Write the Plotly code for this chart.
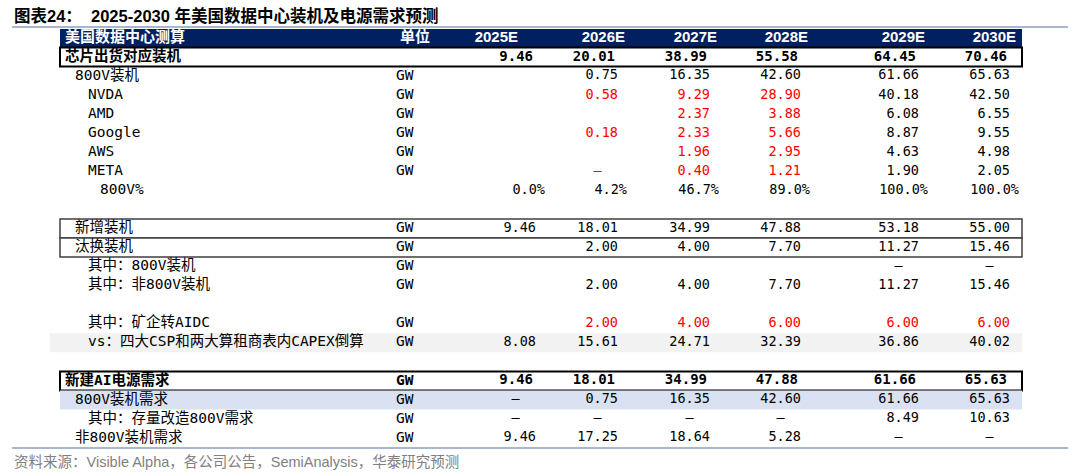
import plotly.graph_objects as go

years = ["2025E", "2026E", "2027E", "2028E", "2029E", "2030E"]
DASH = "–"                                                                      # cells shown as a dash

chip_total      = [9.46, 20.01, 38.99, 55.58, 64.45, 70.46]                     # 芯片出货对应装机
v800_units      = [None, 0.75, 16.35, 42.60, 61.66, 65.63]                      # 800V装机
nvda            = [None, 0.58, 9.29, 28.90, 40.18, 42.50]
amd             = [None, None, 2.37, 3.88, 6.08, 6.55]
google          = [None, 0.18, 2.33, 5.66, 8.87, 9.55]
aws             = [None, None, 1.96, 2.95, 4.63, 4.98]
meta            = [None, DASH, 0.40, 1.21, 1.90, 2.05]
v800_share      = [0.000, 0.042, 0.467, 0.890, 1.000, 1.000]                    # 800V%
new_units       = [9.46, 18.01, 34.99, 47.88, 53.18, 55.00]                     # 新增装机
replace_units   = [None, 2.00, 4.00, 7.70, 11.27, 15.46]                        # 汰换装机
replace_800v    = [None, None, None, None, DASH, DASH]
replace_non800v = [None, 2.00, 4.00, 7.70, 11.27, 15.46]
miner_aidc      = [None, 2.00, 4.00, 6.00, 6.00, 6.00]                          # 矿企转AIDC
capex_check     = [8.08, 15.61, 24.71, 32.39, 36.86, 40.02]                     # CAPEX倒算
ai_power        = [9.46, 18.01, 34.99, 47.88, 61.66, 65.63]                     # 新建AI电源需求
v800_demand     = [DASH, 0.75, 16.35, 42.60, 61.66, 65.63]
retrofit_800v   = [DASH, DASH, DASH, DASH, 8.49, 10.63]
non800v_demand  = [9.46, 17.25, 18.64, 5.28, DASH, DASH]

# columns printed in red (estimates / company guidance)
nvda_red   = [1, 2, 3]
amd_red    = [2, 3]
google_red = [1, 2, 3]
aws_red    = [2, 3]
meta_red   = [1, 2, 3]
miner_red  = [1, 2, 3, 4, 5]

title_text = "图表24：  2025-2030 年美国数据中心装机及电源需求预测"
source_text = "资料来源：Visible Alpha，各公司公告，SemiAnalysis，华泰研究预测"

# ---------------- layout / style settings ----------------
W, H = 1080, 475
ROW0_PX, ROW_PX = 38, 19.05                                                     # pixel centre of header row, row pitch
TABLE_L, TABLE_R = 60, 1022
INDENT = [65, 75, 88, 100]                                                      # label x per indent level
UNIT_X = 396
VAL_R = [536, 618, 710, 801, 919, 1010]                                         # right edge of value columns
HEAD_R = [518, 625, 717, 808, 925, 1016]                                        # right edge of year headers
MONO = "DejaVu Sans Mono, Noto Sans CJK SC"
NAVY, RED = "#002060", "#FF0000"
RULE = "#A8B7CC"


def px_to_row(py):
    return (py - ROW0_PX) / ROW_PX                                              # pixel height -> row units of the y axis


# (label, unit, values, indent level, red columns, row style)
table_rows = [
    ("芯片出货对应装机", "", chip_total, 0, [], "boxbold"),
    ("800V装机", "GW", v800_units, 1, [], ""),
    ("NVDA", "GW", nvda, 2, nvda_red, ""),
    ("AMD", "GW", amd, 2, amd_red, ""),
    ("Google", "GW", google, 2, google_red, ""),
    ("AWS", "GW", aws, 2, aws_red, ""),
    ("META", "GW", meta, 2, meta_red, ""),
    ("800V%", "", v800_share, 3, [], "pct"),
    None,
    ("新增装机", "GW", new_units, 1, [], "box"),
    ("汰换装机", "GW", replace_units, 1, [], "box"),
    ("其中：800V装机", "GW", replace_800v, 2, [], ""),
    ("其中：非800V装机", "GW", replace_non800v, 2, [], ""),
    None,
    ("其中：矿企转AIDC", "GW", miner_aidc, 2, miner_red, ""),
    ("vs：四大CSP和两大算租商表内CAPEX倒算", "GW", capex_check, 2, [], "gray"),
    None,
    ("新建AI电源需求", "GW", ai_power, 0, [], "boxbold"),
    ("800V装机需求", "GW", v800_demand, 1, [], "blue"),
    ("其中：存量改造800V需求", "GW", retrofit_800v, 2, [], ""),
    ("非800V装机需求", "GW", non800v_demand, 1, [], ""),
]


def fmt(v, pct=False):
    if v is None:
        return ""
    if v == DASH:
        return DASH + "\u00a0\u00a0"                                            # accounting style dash, padded
    if pct:
        return f"{v * 100:.1f}%"
    return f"{v:.2f}"


fig = go.Figure()

# ---- row backgrounds and boxes (horizontal bars spanning the table) ----
def row_bar(row, fill, line_color, line_width, height=1.0, left=TABLE_L):
    fig.add_trace(go.Bar(
        y=[row], x=[TABLE_R - left], base=[left], width=[height],
        orientation="h", marker=dict(color=fill, line=dict(color=line_color, width=line_width)),
        hoverinfo="skip", showlegend=False))

row_bar(0, NAVY, NAVY, 0, height=18 / ROW_PX)                                   # header
for i, r in enumerate(table_rows, start=1):
    if r is None:
        continue
    style = r[5]
    if style == "boxbold":
        row_bar(i, "white", "#000000", 2)
    elif style == "box":
        row_bar(i, "white", "#3F3F3F", 1.5)
    elif style == "gray":
        row_bar(i, "#F2F2F2", "#F2F2F2", 0, left=50)
    elif style == "blue":
        row_bar(i, "#DAE1F2", "#DAE1F2", 0)

# ---- rules under the title and under the table ----
for py in (27, 448):
    fig.add_trace(go.Scatter(
        x=[12, 1068], y=[px_to_row(py)] * 2, mode="lines",
        line=dict(color=RULE, width=2), hoverinfo="skip", showlegend=False))

# ---- header texts ----
fig.add_trace(go.Scatter(
    x=[INDENT[0], 400], y=[0, 0], text=["美国数据中心测算", "单位"], mode="text",
    textposition="middle right", cliponaxis=False, hoverinfo="skip", showlegend=False,
    textfont=dict(family="Noto Sans CJK SC", size=15, color="white", weight="bold")))
fig.add_trace(go.Scatter(
    x=HEAD_R, y=[0] * len(years), text=years, mode="text",
    textposition="middle left", cliponaxis=False, hoverinfo="skip", showlegend=False,
    textfont=dict(family="Liberation Sans", size=15, color="white", weight="bold")))

# ---- body texts ----
cells = {False: dict(x=[], y=[], t=[], c=[]), True: dict(x=[], y=[], t=[], c=[])}
labels = {False: dict(x=[], y=[], t=[]), True: dict(x=[], y=[], t=[])}
for i, r in enumerate(table_rows, start=1):
    if r is None:
        continue
    label, unit, vals, level, reds, style = r
    bold = style == "boxbold"
    labels[bold]["x"] += [INDENT[level]]
    labels[bold]["y"] += [i]
    labels[bold]["t"] += [label]
    if unit:
        labels[bold]["x"] += [UNIT_X]
        labels[bold]["y"] += [i]
        labels[bold]["t"] += [unit]
    for j, v in enumerate(vals):
        txt = fmt(v, style == "pct")
        if not txt:
            continue
        xr = VAL_R[j] - (3 if bold else 0) + (9 if style == "pct" else 0)
        cells[bold]["x"].append(xr)
        cells[bold]["y"].append(i)
        cells[bold]["t"].append(txt)
        cells[bold]["c"].append(RED if j in reds else "#000000")

for bold in (False, True):
    fig.add_trace(go.Scatter(
        x=labels[bold]["x"], y=labels[bold]["y"], text=labels[bold]["t"], mode="text",
        textposition="middle right", cliponaxis=False, hoverinfo="skip", showlegend=False,
        textfont=dict(family=MONO, size=14.5, color="#000000", weight="bold" if bold else "normal")))
    fig.add_trace(go.Scatter(
        x=cells[bold]["x"], y=cells[bold]["y"], text=cells[bold]["t"], mode="text",
        textposition="middle left", cliponaxis=False, hoverinfo="skip", showlegend=False,
        textfont=dict(family=MONO, size=14 if bold else 13.5, color=cells[bold]["c"],
                      weight="bold" if bold else "normal")))

# ---- title and source ----
fig.add_annotation(x=12, y=px_to_row(15), xref="x", yref="y", text=f"<b>{title_text}</b>",
                   showarrow=False, xanchor="left", yanchor="middle",
                   font=dict(family="Liberation Sans, Noto Sans CJK SC", size=16.5, color="#000000"))
fig.add_annotation(x=12, y=px_to_row(462), xref="x", yref="y", text=source_text,
                   showarrow=False, xanchor="left", yanchor="middle",
                   font=dict(family="Liberation Sans, Noto Sans CJK SC", size=14.5, color="#808080"))

fig.update_layout(
    width=W, height=H, margin=dict(l=0, r=0, t=0, b=0),
    paper_bgcolor="white", plot_bgcolor="white",
    barmode="overlay", showlegend=False,
    xaxis=dict(range=[0, W], visible=False, fixedrange=True),
    yaxis=dict(range=[px_to_row(H), px_to_row(0)], visible=False, fixedrange=True),  # reversed: row 0 at top
)

fig.write_html("out.html", config={"displayModeBar": False},
               post_script="document.body.style.margin = '0';")                 # page margin off so the chart fills the window
